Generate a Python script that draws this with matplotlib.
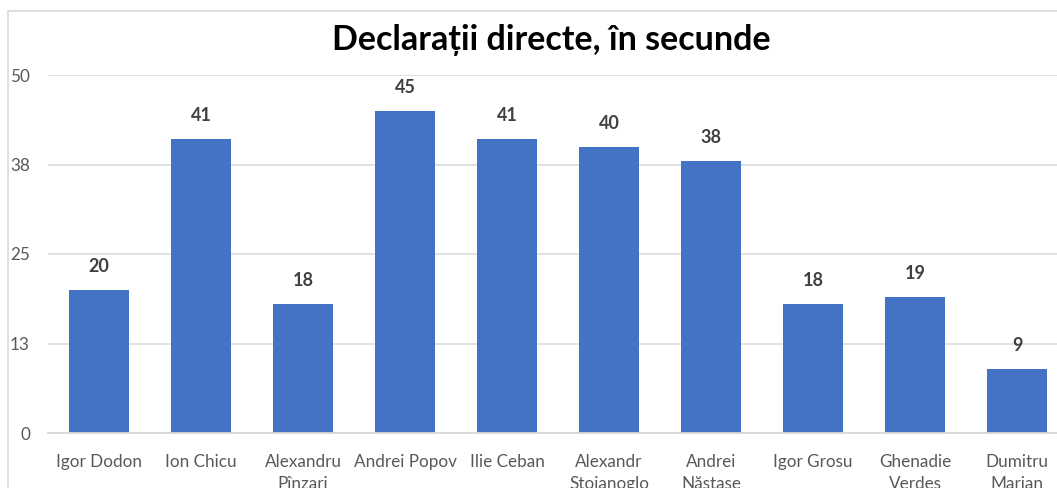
import matplotlib
matplotlib.use('Agg')
import matplotlib.pyplot as plt
from matplotlib.patches import Rectangle

plt.rcParams['font.family'] = ['Lato', 'DejaVu Sans']

names = ['Igor Dodon', 'Ion Chicu', 'Alexandru\nPînzari', 'Andrei Popov', 'Ilie Ceban',
         'Alexandr\nStoianoglo', 'Andrei\nNăstase', 'Igor Grosu', 'Ghenadie\nVerdeș',
         'Dumitru\nMarian']
seconds = [20, 41, 18, 45, 41, 40, 38, 18, 19, 9]
yticks = [0, 12.5, 25, 37.5, 50]
ytick_labels = ['0', '13', '25', '38', '50']

W, H = 1057, 488
fig = plt.figure(figsize=(W / 100, H / 100), dpi=100)

# chart border (runs off right and bottom like the screenshot)
fig.patches.append(Rectangle((8 / W, -0.1), 1.2, (H - 11) / H + 0.1,
                             transform=fig.transFigure, fill=False,
                             edgecolor='#D9D9D9', linewidth=1.2))

ax = fig.add_axes([48 / W, 55 / H, 1020 / W, 358 / H])
x = range(len(names))
bars = ax.bar(x, seconds, width=0.59, color='#4472C4', zorder=3)

ax.set_xlim(-0.5, len(names) - 0.5)
ax.set_ylim(0, 50)
ax.set_yticks(yticks)
ax.set_yticklabels(ytick_labels)
ax.set_xticks(list(x))
ax.set_xticklabels(names, linespacing=1.5)
ax.tick_params(axis='both', length=0, labelsize=12.3, labelcolor='#595959')
ax.tick_params(axis='y', pad=13)
ax.tick_params(axis='x', pad=15)
for lab in ax.get_yticklabels():
    lab.set_horizontalalignment('right')

ax.grid(axis='y', color='#D9D9D9', linewidth=1.1, zorder=0)
for s in ['top', 'right', 'left']:
    ax.spines[s].set_visible(False)
ax.spines['bottom'].set_color('#D9D9D9')
ax.spines['bottom'].set_linewidth(1.3)
ax.spines['bottom'].set_zorder(4)

for b, v in zip(bars, seconds):
    ax.annotate(str(v), (b.get_x() + b.get_width() / 2, v), xytext=(0, 15),
                textcoords='offset pixels', ha='center', va='bottom',
                fontsize=13, fontweight='bold', color='#404040')

fig.text(551 / W, (H - 40) / H, 'Declarații directe, în secunde', ha='center', va='center',
         fontsize=24.5, fontweight='bold', color='black')

fig.savefig('out.png', dpi=100)
